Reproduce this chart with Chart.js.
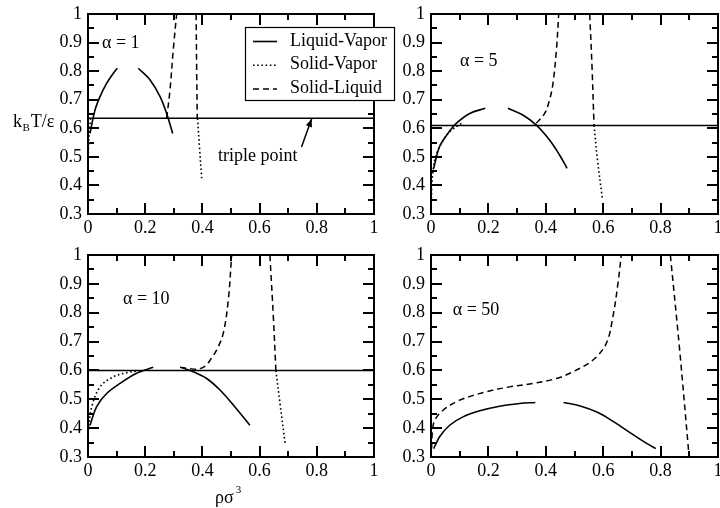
<!DOCTYPE html>
<html><head><meta charset="utf-8">
<script src="https://cdn.jsdelivr.net/npm/chart.js@4/dist/chart.umd.min.js"></script>
<style>
html,body{margin:0;padding:0;background:#fff;}
#wrap{position:relative;width:720px;height:508px;overflow:hidden;background:#fff;}
canvas{position:absolute;left:0;top:0;}
</style></head><body>
<div id="wrap">
<canvas id="c1" width="720" height="508"></canvas>
<canvas id="c2" width="720" height="508"></canvas>
<canvas id="c3" width="720" height="508"></canvas>
<canvas id="c4" width="720" height="508"></canvas>
</div>
<script>
// ---------- data (x = rho*sigma^3, y = kB T / epsilon) ----------
const xTickValues = [0, 0.2, 0.4, 0.6, 0.8, 1];
const yTickValues = [0.3, 0.4, 0.5, 0.6, 0.7, 0.8, 0.9, 1];
const xMinorTicks = [0.1, 0.3, 0.5, 0.7, 0.9];
const yMinorTicks = [0.35, 0.45, 0.55, 0.65, 0.75, 0.85, 0.95];
const alphas = [1, 5, 10, 50];
const triplePoints = [0.635, 0.61, 0.60, null];
const seriesNames = ['Liquid-Vapor', 'Solid-Vapor', 'Solid-Liquid'];

// alpha = 1
const a1_lvLeft  = [[0.007,0.582],[0.0245,0.664],[0.042,0.711],[0.065,0.757],[0.088,0.792],[0.1026,0.81]];
const a1_lvRight = [[0.176,0.81],[0.217,0.769],[0.252,0.711],[0.275,0.652],[0.296,0.582]];
const a1_svLeft  = [[0.009,0.635],[0.005,0.59],[0.002,0.54],[0.001,0.5]];
const a1_svRight = [[0.383,0.635],[0.39,0.53],[0.3975,0.425]];
const a1_slLiq   = [[0.275,0.635],[0.2867,0.734],[0.298,0.874],[0.31,1.0]];
const a1_slSol   = [[0.378,1.0],[0.38,0.8],[0.382,0.635]];

// alpha = 5
const a5_lvLeft  = [[0.0093,0.46],[0.030,0.536],[0.059,0.582],[0.088,0.617],[0.135,0.652],[0.189,0.67]];
const a5_lvRight = [[0.268,0.67],[0.32,0.6465],[0.367,0.611],[0.413,0.559],[0.448,0.5065],[0.474,0.46]];
const a5_svLeft  = [[0.106,0.617],[0.065,0.588],[0.036,0.547],[0.016,0.501],[0.005,0.431],[0.001,0.349]];
const a5_svRight = [[0.568,0.611],[0.58,0.49],[0.597,0.355]];
const a5_slLiq   = [[0.367,0.6175],[0.396,0.652],[0.413,0.699],[0.425,0.757],[0.437,0.874],[0.445,1.0]];
const a5_slSol   = [[0.553,1.0],[0.561,0.816],[0.568,0.611]];

// alpha = 10
const a10_lvLeft  = [[0.007,0.41],[0.030,0.474],[0.065,0.52],[0.112,0.555],[0.170,0.59],[0.228,0.6106]];
const a10_lvRight = [[0.3275,0.61],[0.368,0.5955],[0.415,0.572],[0.4615,0.532],[0.508,0.48],[0.566,0.41]];
const a10_svLeft  = [[0.182,0.599],[0.135,0.592],[0.0886,0.578],[0.042,0.543],[0.013,0.474],[0.001,0.393]];
const a10_svRight = [[0.657,0.6],[0.672,0.48],[0.689,0.349]];
const a10_slLiq   = [[0.322,0.611],[0.355,0.606],[0.385,0.605],[0.41,0.615],[0.43,0.64],[0.45,0.671],[0.473,0.729],[0.4907,0.845],[0.5023,1.0]];
const a10_slSol   = [[0.636,1.0],[0.648,0.787],[0.657,0.6]];

// alpha = 50
const a50_lvLeft  = [[0.0093,0.329],[0.030,0.37],[0.065,0.41],[0.1115,0.439],[0.1696,0.46],[0.239,0.476],[0.309,0.4855],[0.3635,0.489]];
const a50_lvRight = [[0.462,0.489],[0.52,0.477],[0.58,0.455],[0.64,0.42],[0.70,0.38],[0.75,0.348],[0.783,0.329]];
const a50_slLiq   = [[0.002,0.33],[0.005,0.39],[0.0128,0.427],[0.042,0.462],[0.0999,0.497],[0.193,0.526],[0.274,0.543],[0.3554,0.555],[0.4367,0.572],[0.4948,0.5955],[0.5645,0.636],[0.611,0.694],[0.634,0.787],[0.6516,0.9026],[0.663,1.0]];
const a50_slSol   = [[0.834,1.0],[0.8664,0.671],[0.899,0.305]];

// ---------- styles ----------
const FONT = "'Liberation Serif', 'Times New Roman', serif";
const STYLE = {
  lv: {borderDash: [], borderWidth: 1.6},
  sv: {borderDash: [1.6, 2.6], borderWidth: 1.6},
  sl: {borderDash: [6, 4], borderWidth: 1.5}
};
function pts(arr){ return arr.map(p => ({x:p[0], y:p[1]})); }
function ds(arr, kind){
  return Object.assign({data: pts(arr), showLine: true, pointRadius: 0, borderColor: '#000',
    backgroundColor: '#000', fill: false, tension: 0.35, borderCapStyle: 'butt'}, STYLE[kind]);
}
function tripleDs(t){
  return {data: [{x:0,y:t},{x:1,y:t}], showLine: true, pointRadius: 0, borderColor:'#000', borderWidth:1.5, tension:0};
}
function fmt(v){ return String(parseFloat(Number(v).toFixed(2))); }
function seg(ctx, x0, y0, x1, y1){
  ctx.beginPath(); ctx.moveTo(x0, y0); ctx.lineTo(x1, y1); ctx.stroke();
}

// ---------- plugins ----------
const framePlugin = {
  id: 'frame',
  afterDraw(chart){
    const ctx = chart.ctx, a = chart.chartArea;
    const xs = chart.scales.x, ys = chart.scales.y;
    ctx.save();
    ctx.fillStyle = '#000';
    xTickValues.concat(xMinorTicks).forEach((v, i) => {
      const px = Math.round(xs.getPixelForValue(v));
      const L = (i < xTickValues.length) ? 11 : 6;
      ctx.fillRect(px - 1, a.bottom - L, 2, L);
      ctx.fillRect(px - 1, a.top, 2, L);
    });
    yTickValues.concat(yMinorTicks).forEach((v, i) => {
      const py = Math.round(ys.getPixelForValue(v));
      const L = (i < yTickValues.length) ? 11 : 6;
      ctx.fillRect(a.left, py - 1, L, 2);
      ctx.fillRect(a.right - L, py - 1, L, 2);
    });
    ctx.strokeStyle = '#000';
    ctx.lineWidth = 2;
    ctx.setLineDash([]);
    ctx.strokeRect(a.left, a.top, a.right - a.left, a.bottom - a.top);
    ctx.restore();
  }
};

const annotPlugin = {
  id: 'annot',
  afterDraw(chart, args, opts){
    const ctx = chart.ctx;
    const x = chart.scales.x, y = chart.scales.y;
    ctx.save();
    ctx.setLineDash([]);
    ctx.fillStyle = '#000';
    ctx.strokeStyle = '#000';
    ctx.textBaseline = 'alphabetic';
    ctx.font = '18px ' + FONT;
    if (opts.alpha) {
      ctx.textAlign = 'left';
      ctx.fillText('\u03b1 = ' + opts.alpha.value, x.getPixelForValue(opts.alpha.x), y.getPixelForValue(opts.alpha.y));
    }
    if (opts.note) {
      const n = opts.note;
      ctx.fillText(n.text, x.getPixelForValue(n.x), y.getPixelForValue(n.y));
      const x0 = x.getPixelForValue(n.ax0), y0 = y.getPixelForValue(n.ay0);
      const x1 = x.getPixelForValue(n.ax1), y1 = y.getPixelForValue(n.ay1);
      ctx.lineWidth = 1.5;
      seg(ctx, x0, y0, x1, y1);
      const ang = Math.atan2(y1 - y0, x1 - x0), hl = 8, hw = 3.2;
      ctx.beginPath();
      ctx.moveTo(x1, y1);
      ctx.lineTo(x1 - hl*Math.cos(ang) + hw*Math.sin(ang), y1 - hl*Math.sin(ang) - hw*Math.cos(ang));
      ctx.lineTo(x1 - hl*Math.cos(ang) - hw*Math.sin(ang), y1 - hl*Math.sin(ang) + hw*Math.cos(ang));
      ctx.closePath(); ctx.fill();
    }
    if (opts.legend) {
      const L = opts.legend;
      ctx.fillStyle = '#fff';
      ctx.fillRect(L.left, L.top, L.width, L.height);
      ctx.lineWidth = 1.2;
      ctx.strokeStyle = '#000';
      ctx.strokeRect(L.left + 0.5, L.top + 0.5, L.width, L.height);
      ctx.fillStyle = '#000';
      const kinds = ['lv', 'sv', 'sl'];
      seriesNames.forEach((name, i) => {
        const base = L.top + 18.5 + i * 23.7;
        const ly = base - 4;
        ctx.save();
        ctx.lineWidth = STYLE[kinds[i]].borderWidth;
        ctx.setLineDash(STYLE[kinds[i]].borderDash);
        seg(ctx, L.left + 8, ly, L.left + 32, ly);
        ctx.restore();
        ctx.textAlign = 'left';
        ctx.fillText(name, L.left + 45, base);
      });
    }
    if (opts.yTitle) {
      const t = opts.yTitle;
      ctx.textAlign = 'left';
      ctx.font = '18px ' + FONT;
      ctx.fillText('k', t.x, t.y);
      const kw = ctx.measureText('k').width;
      ctx.font = '11px ' + FONT;
      ctx.fillText('B', t.x + kw + 0.5, t.y + 4);
      const bw = ctx.measureText('B').width;
      ctx.font = '18px ' + FONT;
      ctx.fillText('T/\u03b5', t.x + kw + bw + 1.5, t.y);
    }
    if (opts.xTitle) {
      const t = opts.xTitle;
      ctx.textAlign = 'left';
      ctx.font = '18px ' + FONT;
      ctx.fillText('\u03c1\u03c3', t.x, t.y);
      const w = ctx.measureText('\u03c1\u03c3').width;
      ctx.font = '11px ' + FONT;
      ctx.fillText('3', t.x + w + 2, t.y - 10);
    }
    ctx.restore();
  }
};

// ---------- panels ----------
function makePanel(id, area, datasets, annot){
  return new Chart(document.getElementById(id), {
    type: 'scatter',
    data: {datasets},
    options: {
      responsive: false, animation: false, devicePixelRatio: 1,
      layout: {padding: {left: area.left - 40, top: area.top, right: 720 - area.right, bottom: 508 - area.bottom - 30}},
      plugins: {legend: {display: false}, tooltip: {enabled: false}, annot},
      scales: {
        x: {type: 'linear', min: 0, max: 1,
            grid: {display: false, drawTicks: false}, border: {display: false},
            afterFit: s => { s.height = 30; s.paddingLeft = 0; s.paddingRight = 0; },
            afterBuildTicks: s => { s.ticks = xTickValues.map(v => ({value: v})); },
            ticks: {padding: 3, color: '#000', maxRotation: 0, autoSkip: false,
                    font: {family: FONT, size: 18}, callback: v => fmt(v)}},
        y: {type: 'linear', min: 0.3, max: 1,
            grid: {display: false, drawTicks: false}, border: {display: false},
            afterFit: s => { s.width = 40; s.paddingTop = 0; s.paddingBottom = 0; },
            afterBuildTicks: s => { s.ticks = yTickValues.map(v => ({value: v})); },
            ticks: {padding: 6, color: '#000', autoSkip: false,
                    font: {family: FONT, size: 18}, callback: v => fmt(v)}}
      }
    },
    plugins: [framePlugin, annotPlugin]
  });
}

makePanel('c1', {left: 88, top: 14, right: 374, bottom: 214}, [
  tripleDs(triplePoints[0]),
  ds(a1_lvLeft, 'lv'), ds(a1_lvRight, 'lv'),
  ds(a1_svLeft, 'sv'), ds(a1_svRight, 'sv'),
  ds(a1_slLiq, 'sl'), ds(a1_slSol, 'sl')
], {
  alpha: {value: alphas[0], x: 0.049, y: 0.88},
  note: {text: 'triple point', x: 0.4545, y: 0.485, ax0: 0.7465, ay0: 0.5345, ax1: 0.782, ay1: 0.633},
  legend: {left: 245, top: 27, width: 149, height: 73},
  yTitle: {x: 13, y: 127}
});
makePanel('c2', {left: 431, top: 14, right: 718, bottom: 214}, [
  tripleDs(triplePoints[1]),
  ds(a5_lvLeft, 'lv'), ds(a5_lvRight, 'lv'),
  ds(a5_svLeft, 'sv'), ds(a5_svRight, 'sv'),
  ds(a5_slLiq, 'sl'), ds(a5_slSol, 'sl')
], {alpha: {value: alphas[1], x: 0.101, y: 0.818}});
makePanel('c3', {left: 88, top: 255, right: 374, bottom: 457}, [
  tripleDs(triplePoints[2]),
  ds(a10_lvLeft, 'lv'), ds(a10_lvRight, 'lv'),
  ds(a10_svLeft, 'sv'), ds(a10_svRight, 'sv'),
  ds(a10_slLiq, 'sl'), ds(a10_slSol, 'sl')
], {alpha: {value: alphas[2], x: 0.1224, y: 0.829}, xTitle: {x: 215, y: 503}});
makePanel('c4', {left: 431, top: 255, right: 718, bottom: 457}, [
  ds(a50_lvLeft, 'lv'), ds(a50_lvRight, 'lv'),
  ds(a50_slLiq, 'sl'), ds(a50_slSol, 'sl')
], {alpha: {value: alphas[3], x: 0.0756, y: 0.792}});
</script>
</body></html>
